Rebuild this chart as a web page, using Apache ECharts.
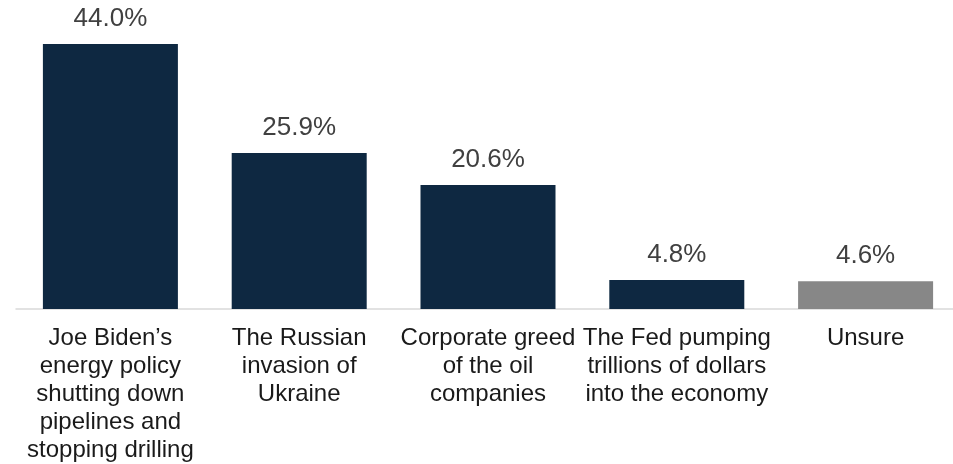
<!DOCTYPE html>
<html><head><meta charset="utf-8">
<script src="https://cdn.jsdelivr.net/npm/echarts@6/dist/echarts.min.js"></script>
<style>html,body{margin:0;padding:0;background:#fff}#c{width:953px;height:464px}</style>
</head><body><div id="c"></div>
<script>
const categories = [
  "Joe Biden’s\nenergy policy\nshutting down\npipelines and\nstopping drilling",
  "The Russian\ninvasion of\nUkraine",
  "Corporate greed\nof the oil\ncompanies",
  "The Fed pumping\ntrillions of dollars\ninto the economy",
  "Unsure"
];
const values = [44.0, 25.9, 20.6, 4.8, 4.6];
const barColors = ["#0e2841", "#0e2841", "#0e2841", "#0e2841", "#878787"];

const chart = echarts.init(document.getElementById('c'), null, {renderer: 'canvas'});
chart.setOption({
  animation: false,
  grid: {left: 16, width: 944, top: 20, bottom: 155, containLabel: false, outerBoundsMode: 'none'},
  xAxis: {
    type: 'category',
    data: categories,
    axisLine: {show: true, lineStyle: {color: '#d9d9d9', width: 1.5}},
    axisTick: {show: false},
    axisLabel: {
      interval: 0,
      margin: 15,
      color: '#1a1a1a',
      fontFamily: 'Liberation Sans, Arial, sans-serif',
      fontSize: 24,
      lineHeight: 28
    }
  },
  yAxis: {
    type: 'value', min: 0, max: 48, show: false,
    splitLine: {show: false}
  },
  series: [{
    type: 'bar',
    barWidth: 135,
    data: values.map((v, i) => ({value: v, itemStyle: {color: barColors[i]}})),
    label: {
      show: true,
      position: 'top',
      distance: 12,
      color: '#404040',
      fontFamily: 'Liberation Sans, Arial, sans-serif',
      fontSize: 26,
      formatter: p => p.value.toFixed(1) + '%'
    }
  }]
});
</script></body></html>
